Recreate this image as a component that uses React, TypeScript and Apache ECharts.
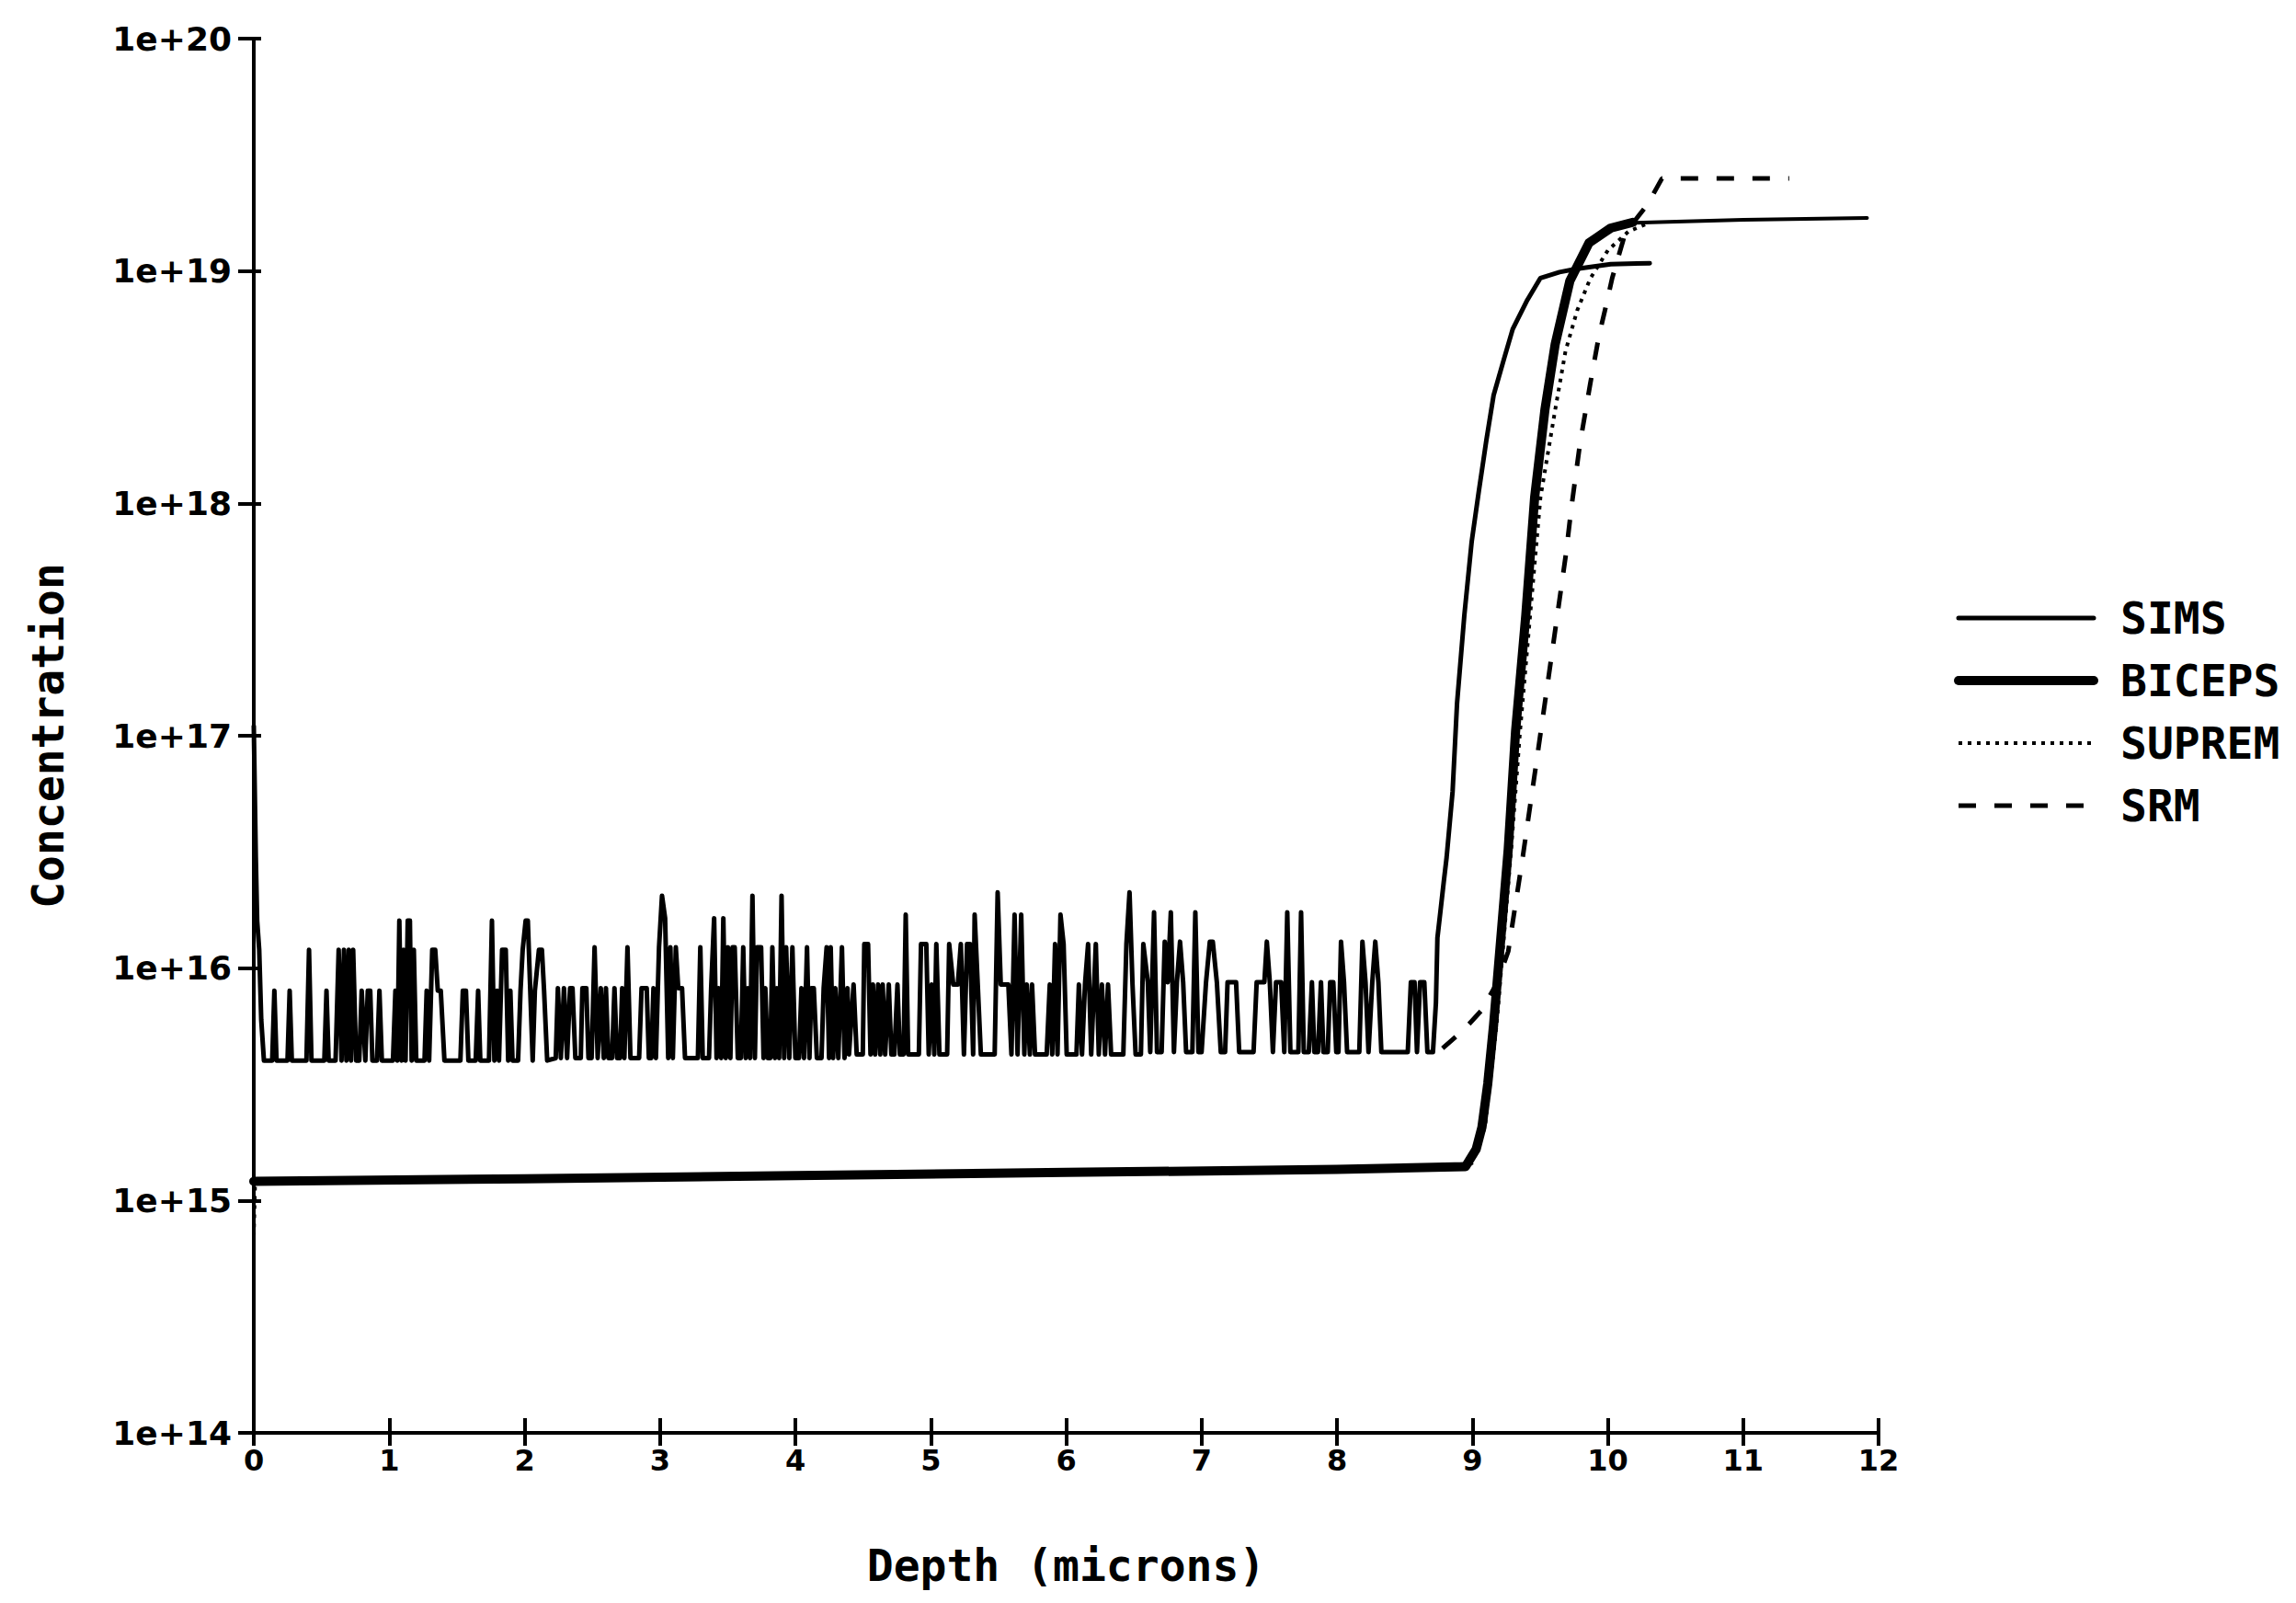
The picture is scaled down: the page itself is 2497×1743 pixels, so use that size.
import React, { useEffect, useRef } from "react";
import * as echarts from "echarts";

// ---- Data (depth in microns, concentration in cm^-3) ----
const X_TICKS = [0, 12, 1]; // min, max, interval
const Y_RANGE = [1e14, 1e20];
const SERIES_NAMES = ["SIMS", "BICEPS", "SUPREM", "SRM"];

const SIMS: [number, number][] = [
  [0.0, 1.1e17], [0.015, 3e16], [0.025, 1.6e16], [0.04, 1.2e16], [0.055, 6e15], [0.075, 4e15],
  [0.136, 4e15], [0.152, 8e15], [0.168, 4e15],
  [0.249, 4e15], [0.265, 8e15], [0.281, 4e15],
  [0.389, 4e15], [0.408, 1.2e16], [0.426, 4e15],
  [0.521, 4e15], [0.537, 8e15], [0.553, 4e15],
  [0.604, 4e15], [0.627, 1.2e16], [0.648, 4e15], [0.666, 1.2e16], [0.684, 4e15], [0.702, 1.2e16], [0.718, 4e15], [0.734, 1.2e16], [0.756, 4e15],
  [0.779, 4e15], [0.797, 8e15], [0.824, 4e15], [0.842, 8e15], [0.86, 8e15], [0.876, 4e15],
  [0.91, 4e15], [0.928, 8e15], [0.946, 4e15],
  [1.028, 4e15], [1.046, 8e15], [1.06, 4e15], [1.075, 1.6e16], [1.091, 4e15], [1.107, 1.2e16], [1.121, 4e15], [1.137, 1.6e16], [1.153, 1.6e16], [1.166, 4e15], [1.182, 1.2e16], [1.2, 4e15],
  [1.261, 4e15], [1.277, 8e15], [1.295, 4e15], [1.318, 1.2e16], [1.34, 1.2e16], [1.359, 8e15], [1.381, 8e15], [1.408, 4e15],
  [1.526, 4e15], [1.544, 8e15], [1.567, 8e15], [1.585, 4e15],
  [1.639, 4e15], [1.657, 8e15], [1.673, 4e15],
  [1.737, 4e15], [1.759, 1.6e16], [1.777, 4e15], [1.798, 8e15], [1.811, 4e15], [1.834, 1.2e16], [1.861, 1.2e16], [1.879, 4e15], [1.895, 8e15], [1.911, 4e15],
  [1.952, 4e15], [1.97, 8e15], [1.986, 1.2e16], [2.008, 1.6e16], [2.024, 1.6e16], [2.042, 8e15], [2.06, 4e15], [2.076, 8e15], [2.106, 1.2e16], [2.128, 1.2e16], [2.144, 8e15], [2.167, 4e15],
  [2.23, 4.1e15], [2.246, 8.2e15], [2.268, 4.1e15], [2.291, 8.2e15], [2.314, 4.1e15], [2.336, 8.2e15], [2.354, 8.2e15], [2.375, 4.1e15],
  [2.415, 4.1e15], [2.427, 8.2e15], [2.456, 8.2e15], [2.472, 4.1e15],
  [2.495, 4.1e15], [2.517, 1.23e16], [2.54, 4.1e15], [2.563, 8.2e15], [2.585, 4.1e15], [2.601, 8.2e15], [2.619, 4.1e15],
  [2.646, 4.1e15], [2.664, 8.2e15], [2.683, 4.1e15], [2.705, 4.1e15], [2.721, 8.2e15], [2.737, 4.1e15], [2.76, 1.23e16], [2.782, 4.1e15],
  [2.846, 4.1e15], [2.864, 8.2e15], [2.902, 8.2e15], [2.918, 4.1e15], [2.936, 4.1e15], [2.952, 8.2e15], [2.97, 4.1e15], [2.993, 1.23e16], [3.015, 2.05e16], [3.038, 1.64e16], [3.061, 4.1e15], [3.077, 1.23e16], [3.095, 4.1e15], [3.117, 1.23e16], [3.135, 8.2e15], [3.163, 8.2e15], [3.185, 4.1e15],
  [3.28, 4.1e15], [3.298, 1.23e16], [3.316, 4.1e15],
  [3.362, 4.1e15], [3.378, 8.2e15], [3.4, 1.64e16], [3.418, 4.1e15], [3.434, 8.2e15], [3.452, 4.1e15], [3.468, 1.64e16], [3.486, 4.1e15], [3.502, 1.23e16], [3.52, 4.1e15], [3.536, 1.23e16], [3.552, 1.23e16], [3.575, 4.1e15],
  [3.597, 4.1e15], [3.615, 1.23e16], [3.633, 4.1e15], [3.649, 8.2e15], [3.665, 4.1e15], [3.683, 2.05e16], [3.701, 4.1e15], [3.717, 1.23e16], [3.747, 1.23e16], [3.765, 4.1e15], [3.778, 8.2e15], [3.796, 4.1e15],
  [3.815, 4.1e15], [3.83, 1.23e16], [3.849, 4.1e15], [3.864, 8.2e15], [3.88, 4.1e15], [3.898, 2.05e16], [3.917, 4.1e15], [3.932, 1.23e16], [3.955, 4.1e15], [3.978, 1.23e16], [4.0, 4.1e15],
  [4.027, 4.1e15], [4.045, 8.2e15], [4.064, 4.1e15], [4.086, 1.23e16], [4.104, 4.1e15], [4.118, 8.2e15], [4.136, 8.2e15], [4.159, 4.1e15],
  [4.193, 4.1e15], [4.209, 8.2e15], [4.231, 1.23e16], [4.249, 4.1e15], [4.261, 1.23e16], [4.279, 4.1e15], [4.295, 8.2e15], [4.317, 4.1e15], [4.344, 1.23e16], [4.363, 4.1e15], [4.385, 8.2e15],
  [4.396, 4.25e15], [4.43, 8.5e15], [4.453, 4.25e15],
  [4.498, 4.25e15], [4.509, 1.27e16], [4.537, 1.27e16], [4.555, 4.25e15],
  [4.573, 8.5e15], [4.589, 4.25e15], [4.611, 8.5e15], [4.627, 4.25e15], [4.645, 8.5e15], [4.663, 4.25e15], [4.69, 8.5e15], [4.709, 4.25e15], [4.731, 4.25e15], [4.754, 8.5e15], [4.772, 4.25e15], [4.799, 4.25e15], [4.815, 1.7e16], [4.833, 4.25e15],
  [4.912, 4.25e15], [4.928, 1.27e16], [4.967, 1.27e16], [4.985, 4.25e15], [5.007, 8.5e15], [5.026, 4.25e15], [5.041, 1.27e16], [5.064, 4.25e15],
  [5.121, 4.25e15], [5.136, 1.27e16], [5.166, 8.5e15], [5.2, 8.5e15], [5.222, 1.27e16], [5.245, 4.25e15], [5.268, 1.27e16], [5.29, 1.27e16], [5.313, 4.25e15], [5.324, 1.7e16], [5.347, 8.5e15], [5.37, 4.25e15],
  [5.472, 4.25e15], [5.494, 2.12e16], [5.517, 8.5e15], [5.573, 8.5e15], [5.596, 4.25e15], [5.619, 1.7e16], [5.641, 4.25e15], [5.668, 1.7e16], [5.691, 4.25e15], [5.709, 8.5e15], [5.732, 4.25e15], [5.748, 8.5e15], [5.77, 4.25e15],
  [5.856, 4.25e15], [5.879, 8.5e15], [5.897, 4.25e15], [5.918, 1.27e16], [5.936, 4.25e15], [5.958, 1.7e16], [5.981, 1.27e16], [6.004, 4.25e15],
  [6.076, 4.25e15], [6.094, 8.5e15], [6.117, 4.25e15], [6.139, 8.5e15], [6.162, 1.27e16], [6.185, 4.25e15], [6.219, 1.27e16], [6.241, 4.25e15], [6.264, 8.5e15], [6.287, 4.25e15], [6.309, 8.5e15], [6.332, 4.25e15],
  [6.422, 4.25e15], [6.445, 1.27e16], [6.468, 2.12e16], [6.49, 8.5e15], [6.513, 4.25e15], [6.552, 4.25e15], [6.57, 1.27e16],
  [6.603, 8.7e15], [6.621, 4.35e15], [6.649, 1.74e16], [6.671, 4.35e15], [6.705, 4.35e15], [6.728, 1.3e16], [6.75, 8.7e15], [6.773, 1.74e16], [6.796, 4.35e15], [6.818, 8.7e15], [6.841, 1.3e16], [6.864, 8.7e15], [6.886, 4.35e15],
  [6.932, 4.35e15], [6.954, 1.74e16], [6.977, 4.35e15], [7.0, 4.35e15], [7.033, 8.7e15], [7.061, 1.3e16], [7.083, 1.3e16], [7.113, 8.7e15], [7.142, 4.35e15],
  [7.174, 4.35e15], [7.192, 8.7e15], [7.255, 8.7e15], [7.278, 4.35e15],
  [7.384, 4.35e15], [7.407, 8.7e15], [7.464, 8.7e15], [7.482, 1.3e16], [7.504, 8.7e15], [7.527, 4.35e15], [7.55, 8.7e15], [7.588, 8.7e15], [7.611, 4.35e15], [7.633, 1.74e16], [7.656, 4.35e15], [7.715, 4.35e15], [7.735, 1.74e16], [7.755, 4.35e15],
  [7.792, 4.35e15], [7.815, 8.7e15], [7.833, 4.35e15], [7.86, 4.35e15], [7.882, 8.7e15], [7.9, 4.35e15], [7.932, 4.35e15], [7.95, 8.7e15], [7.973, 8.7e15], [7.995, 4.35e15], [8.011, 4.35e15], [8.03, 1.3e16], [8.052, 8.7e15], [8.075, 4.35e15],
  [8.165, 4.35e15], [8.188, 1.3e16], [8.211, 8.7e15], [8.233, 4.35e15], [8.261, 8.7e15], [8.283, 1.3e16], [8.306, 8.7e15], [8.328, 4.35e15],
  [8.523, 4.35e15], [8.546, 8.7e15], [8.573, 8.7e15], [8.591, 4.35e15], [8.614, 8.7e15], [8.645, 8.7e15], [8.668, 4.35e15], [8.709, 4.35e15],
  [8.731, 7.1e15], [8.742, 1.35e16], [8.765, 1.77e16], [8.788, 2.33e16], [8.81, 3.0e16], [8.854, 5.75e16], [8.887, 1.38e17], [8.941, 3.31e17], [8.995, 6.84e17], [9.049, 1.14e18], [9.103, 1.86e18], [9.157, 2.92e18], [9.233, 4.17e18], [9.298, 5.62e18], [9.406, 7.5e18], [9.503, 9.33e18], [9.644, 9.89e18], [9.763, 1.02e19], [10.022, 1.07e19], [10.31, 1.08e19],
];

const BICEPS: [number, number][] = [
  [0, 1.21e15], [2, 1.24e15], [4, 1.28e15], [6, 1.32e15], [8, 1.36e15], [8.95, 1.4e15],
  [9.028, 1.66e15], [9.071, 2.07e15], [9.114, 3.19e15], [9.157, 5.7e15], [9.211, 1.36e16], [9.265, 3.25e16], [9.319, 1.04e17], [9.395, 3.31e17], [9.46, 1.06e18], [9.536, 2.53e18], [9.612, 4.85e18], [9.72, 9.06e18], [9.861, 1.32e19], [10.022, 1.53e19], [10.185, 1.62e19],
];

const BICEPS_TAIL: [number, number][] = [
  [10.15, 1.61e19], [11.0, 1.66e19], [11.915, 1.69e19],
];

const SUPREM: [number, number][] = [
  [0, 7e14], [0.01, 1.21e15], [2, 1.24e15], [4, 1.28e15], [6, 1.32e15], [8, 1.36e15], [8.995, 1.44e15],
  [9.093, 2.07e15], [9.179, 5.7e15], [9.233, 1.36e16], [9.287, 3.25e16], [9.352, 1.04e17], [9.427, 3.31e17], [9.503, 1.06e18], [9.612, 2.53e18], [9.688, 4.52e18], [9.774, 6.76e18], [9.872, 9.31e18], [10.002, 1.23e19], [10.153, 1.48e19], [10.293, 1.6e19],
];

const SRM: [number, number][] = [
  [8.78, 4.52e15], [8.941, 5.46e15], [9.071, 6.61e15], [9.179, 8.57e15], [9.265, 1.18e16], [9.373, 3.03e16], [9.482, 8.36e16], [9.59, 2.31e17], [9.692, 6.1e17], [9.731, 9.55e17], [9.795, 1.81e18], [9.871, 3.28e18], [9.936, 5.3e18], [9.979, 6.76e18], [10.033, 9.33e18], [10.13, 1.46e19], [10.293, 1.93e19], [10.4, 2.5e19], [11.34, 2.5e19],
];

const MONO = "'DejaVu Sans Mono', 'Liberation Mono', monospace";
const SANS = "'DejaVu Sans', 'Liberation Sans', sans-serif";
const BLACK = "#000";

export default function App() {
  const ref = useRef<HTMLDivElement>(null);
  useEffect(() => {
    if (!ref.current) return;
    const chart = echarts.init(ref.current, undefined, { renderer: "svg" });
    const axisLine = { color: BLACK, width: 4 };
    const lineSeries = (name: string, data: [number, number][], lineStyle: any, z = 3) => ({
      name,
      type: "line",
      data,
      symbol: "none",
      showSymbol: false,
      itemStyle: { color: BLACK },
      lineStyle: { color: BLACK, ...lineStyle },
      z,
    });
    const option: any = {
      animation: false,
      backgroundColor: "#fff",
      grid: { left: 276, right: 454, top: 42, bottom: 185, containLabel: false },
      legend: {
        data: SERIES_NAMES,
        orient: "vertical",
        left: 2125,
        top: 644,
        padding: 0,
        itemWidth: 147,
        itemHeight: 14,
        itemGap: 12,
        selectedMode: false,
        itemStyle: { opacity: 0 },
        lineStyle: { width: "inherit" },
        textStyle: {
          fontFamily: MONO,
          fontWeight: "bold",
          fontSize: 48,
          lineHeight: 56,
          color: BLACK,
          padding: [0, 0, 0, 24],
        },
      },
      xAxis: [
        {
          type: "value",
          min: X_TICKS[0],
          max: X_TICKS[1],
          interval: X_TICKS[2],
          position: "bottom",
          name: "Depth (microns)",
          nameLocation: "middle",
          nameGap: 120,
          nameTextStyle: { fontFamily: MONO, fontWeight: "bold", fontSize: 48, color: BLACK },
          axisLine: { show: true, onZero: false, lineStyle: axisLine },
          axisTick: { show: true, inside: false, length: 14, lineStyle: axisLine },
          axisLabel: { margin: 14, color: BLACK, fontFamily: SANS, fontWeight: "bold", fontSize: 32 },
          splitLine: { show: false },
        },
        {
          type: "value",
          min: X_TICKS[0],
          max: X_TICKS[1],
          interval: X_TICKS[2],
          position: "bottom",
          axisLine: { show: false, onZero: false },
          axisTick: { show: true, inside: true, length: 16, lineStyle: axisLine },
          axisLabel: { show: false },
          splitLine: { show: false },
        },
      ],
      yAxis: [
        {
          type: "log",
          logBase: 10,
          min: Y_RANGE[0],
          max: Y_RANGE[1],
          position: "left",
          name: "Concentration",
          nameLocation: "middle",
          nameGap: 200,
          nameRotate: 90,
          nameTextStyle: { fontFamily: MONO, fontWeight: "bold", fontSize: 48, color: BLACK },
          axisLine: { show: true, onZero: false, lineStyle: axisLine },
          axisTick: { show: true, inside: false, length: 17, lineStyle: axisLine },
          axisLabel: {
            margin: 24,
            color: BLACK,
            fontFamily: SANS,
            fontWeight: "bold",
            fontSize: 36,
            formatter: (v: number) => "1e+" + Math.round(Math.log10(v)),
          },
          splitLine: { show: false },
        },
        {
          type: "log",
          logBase: 10,
          min: Y_RANGE[0],
          max: Y_RANGE[1],
          position: "left",
          axisLine: { show: false, onZero: false },
          axisTick: { show: true, inside: true, length: 8, lineStyle: axisLine },
          axisLabel: { show: false },
          splitLine: { show: false },
        },
      ],
      series: [
        lineSeries("SIMS", SIMS, { width: 5, cap: "round", join: "round" }),
        lineSeries("BICEPS", BICEPS, { width: 10, cap: "round", join: "round" }, 4),
        lineSeries("BICEPS", BICEPS_TAIL, { width: 4, cap: "round" }, 4),
        lineSeries("SUPREM", SUPREM, { width: 4, type: [4, 6] }),
        lineSeries("SRM", SRM, { width: 5, type: [19, 20] }),
      ],
    };
    chart.setOption(option);
    return () => chart.dispose();
  }, []);
  return (
    <div
      ref={ref}
      style={{ position: "absolute", left: 0, top: 0, width: 2497, height: 1743, background: "#fff" }}
    />
  );
}
